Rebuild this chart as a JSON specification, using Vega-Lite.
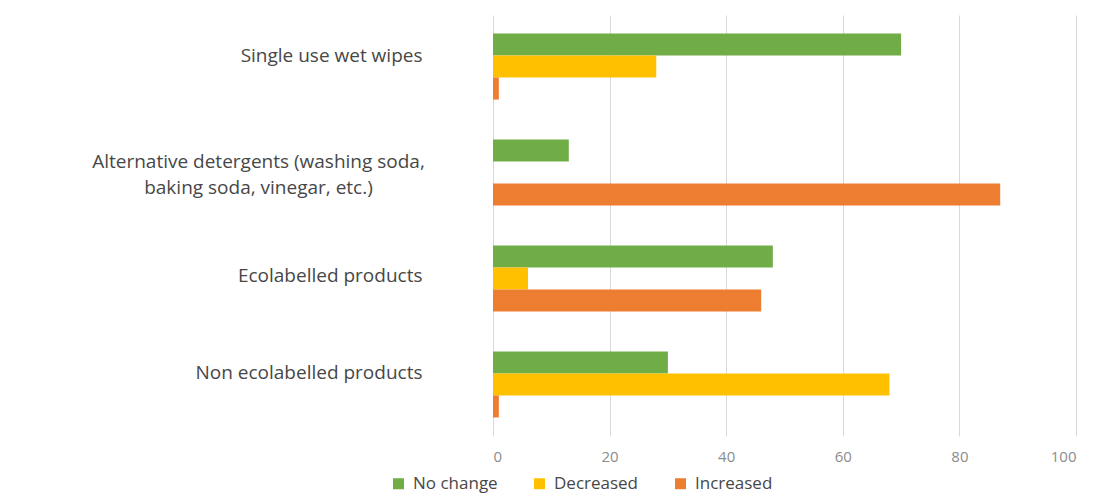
{
  "$schema": "https://vega.github.io/schema/vega-lite/v6.json",
  "width": 583,
  "height": 421,
  "autosize": {"type": "none"},
  "padding": {"left": 493, "top": 15, "right": 17, "bottom": 60},
  "background": "white",
  "data": {
    "values": [
      {"item": "Single use wet wipes", "change": "No change", "pct": 70},
      {"item": "Single use wet wipes", "change": "Decreased", "pct": 28},
      {"item": "Single use wet wipes", "change": "Increased", "pct": 1},
      {"item": "Alternative detergents (washing soda, baking soda, vinegar, etc.)", "change": "No change", "pct": 13},
      {"item": "Alternative detergents (washing soda, baking soda, vinegar, etc.)", "change": "Decreased", "pct": 0},
      {"item": "Alternative detergents (washing soda, baking soda, vinegar, etc.)", "change": "Increased", "pct": 87},
      {"item": "Ecolabelled products", "change": "No change", "pct": 48},
      {"item": "Ecolabelled products", "change": "Decreased", "pct": 6},
      {"item": "Ecolabelled products", "change": "Increased", "pct": 46},
      {"item": "Non ecolabelled products", "change": "No change", "pct": 30},
      {"item": "Non ecolabelled products", "change": "Decreased", "pct": 68},
      {"item": "Non ecolabelled products", "change": "Increased", "pct": 1}
    ]
  },
  "mark": {"type": "bar"},
  "encoding": {
    "y": {
      "field": "item",
      "type": "nominal",
      "sort": ["Single use wet wipes", "Alternative detergents (washing soda, baking soda, vinegar, etc.)", "Ecolabelled products", "Non ecolabelled products"],
      "scale": {"paddingInner": 0.377, "paddingOuter": 0.175},
      "title": null,
      "axis": {
        "domain": false,
        "ticks": false,
        "grid": false,
        "labelFont": "Open Sans",
        "labelFontSize": 19,
        "labelColor": "#474747",
        "labelLimit": 600,
        "labelLineHeight": 26,
        "labelExpr": "datum.value === 'Alternative detergents (washing soda, baking soda, vinegar, etc.)' ? ['Alternative detergents (washing soda,', 'baking soda, vinegar, etc.)'] : datum.label",
        "labelAlign": {"condition": {"test": "datum.value === 'Alternative detergents (washing soda, baking soda, vinegar, etc.)'", "value": "center"}, "value": "right"},
        "labelPadding": {"condition": {"test": "datum.value === 'Alternative detergents (washing soda, baking soda, vinegar, etc.)'", "value": 235}, "value": 71},
        "labelOffset": {"condition": {"test": "datum.value === 'Ecolabelled products'", "value": -2}, "value": -11}
      }
    },
    "yOffset": {
      "field": "change",
      "type": "nominal",
      "sort": ["No change", "Decreased", "Increased"],
      "scale": {"paddingInner": 0, "paddingOuter": 0}
    },
    "x": {
      "field": "pct",
      "type": "quantitative",
      "scale": {"domain": [0, 100]},
      "title": null,
      "axis": {
        "values": [0, 20, 40, 60, 80, 100],
        "grid": true,
        "gridColor": "#d9d9d9",
        "gridWidth": 1,
        "domain": false,
        "ticks": false,
        "labelFont": "Open Sans",
        "labelFontSize": 15,
        "labelColor": "#8c8c8c",
        "labelPadding": 13
      }
    },
    "color": {
      "field": "change",
      "type": "nominal",
      "scale": {"domain": ["No change", "Decreased", "Increased"], "range": ["#70ad47", "#ffc000", "#ed7d31"]},
      "legend": {
        "title": null,
        "orient": "none",
        "direction": "horizontal",
        "legendX": -103,
        "legendY": 460,
        "symbolType": "square",
        "symbolSize": 121,
        "symbolStrokeWidth": 0,
        "symbolOpacity": 1,
        "labelFont": "Open Sans",
        "labelFontSize": 17,
        "labelColor": "#474747",
        "labelOffset": 6,
        "columnPadding": 33
      }
    }
  },
  "config": {"view": {"stroke": null}}
}
